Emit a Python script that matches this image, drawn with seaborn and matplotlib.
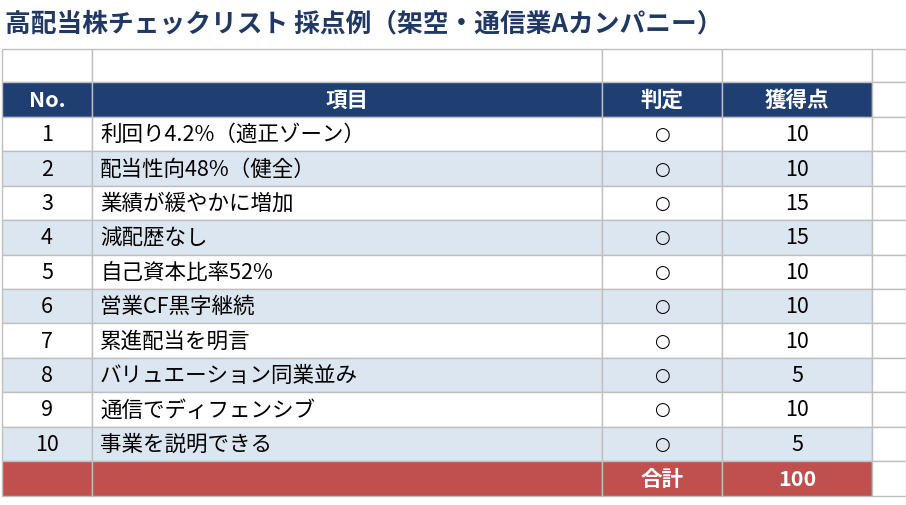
import matplotlib
matplotlib.use("Agg")
import matplotlib.pyplot as plt
from matplotlib.patches import Rectangle
import seaborn as sns

sns.set_theme(style="white")
plt.rcParams['font.family'] = ['Noto Sans CJK JP', 'DejaVu Sans']

title = "高配当株チェックリスト 採点例（架空・通信業Aカンパニー）"
headers = ["No.", "項目", "判定", "獲得点"]
numbers = [1, 2, 3, 4, 5, 6, 7, 8, 9, 10]
items = ["利回り4.2%（適正ゾーン）", "配当性向48%（健全）", "業績が緩やかに増加", "減配歴なし",
         "自己資本比率52%", "営業CF黒字継続", "累進配当を明言", "バリュエーション同業並み",
         "通信でディフェンシブ", "事業を説明できる"]
verdicts = ["○"] * 10
points = [10, 10, 15, 15, 10, 10, 10, 5, 10, 5]
total_label = "合計"

fig = plt.figure(figsize=(9.06, 5.06), dpi=100)
ax = fig.add_axes([0, 0, 1, 1])
ax.set_xlim(0, 906); ax.set_ylim(506, 0); ax.axis("off")

cols = [2, 92, 602, 722, 872, 906]
grid = "#bfbfbf"
navy = "#1f3f73"
ax.text(5, 24, title, fontsize=18.5, fontweight="bold", color="#1f3864", va="center", ha="left")

def row(y0, h, fill, texts, color, bold, aligns):
    for i in range(len(cols) - 1):
        x0, x1 = cols[i], cols[i + 1]
        fc = fill if i < 4 else "white"
        ax.add_patch(Rectangle((x0, y0), x1 - x0, h, facecolor=fc, edgecolor=grid, lw=1))
        if i < 4 and texts[i] is not None:
            al = aligns[i]
            tx = x0 + 8 if al == "left" else (x0 + x1) / 2
            s = str(texts[i])
            kw = {}
            if s == "○":
                kw = dict(family=["DejaVu Sans"], fontsize=13)
            ax.text(tx, y0 + h / 2, s, ha=al, va="center", color=color,
                    fontweight="bold" if bold else "normal", **({"fontsize": 15.5} | kw))

center = ["center"] * 4
row(50, 33, "white", [None] * 4, "black", False, center)
row(83, 35, navy, headers, "white", True, center)
y = 118
for k in range(len(numbers)):
    fill = "white" if k % 2 == 0 else "#dce6f1"
    row(y, 34.4, fill, [numbers[k], items[k], verdicts[k], points[k]], "black", False,
        ["center", "left", "center", "center"])
    y += 34.4
row(y, 35, "#c0504d", [None, None, total_label, sum(points)], "white", True, center)

fig.savefig("out.png", dpi=100)
